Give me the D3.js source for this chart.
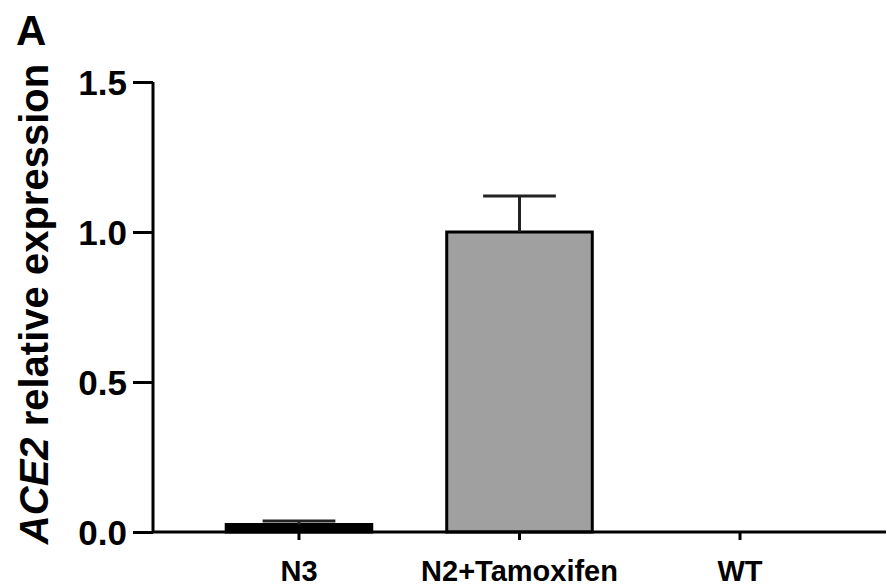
<!DOCTYPE html>
<html>
<head>
<meta charset="utf-8">
<script src="https://cdn.jsdelivr.net/npm/d3@7"></script>
<style>
  body { margin: 0; background: #fff; }
  text { font-family: "Liberation Sans", Arial, sans-serif; font-weight: bold; fill: #000; }
</style>
</head>
<body>
<svg id="chart" width="887" height="587"></svg>
<script>
// chart values
var groups = ["N3", "N2+Tamoxifen", "WT"];
var means = [0.025, 1.0, 0];
var errors = [0.012, 0.12, 0];
var yTicks = [0, 0.5, 1.0, 1.5];
var fills = ["#000000", "#a0a0a0", "#ffffff"];

(function () {
    var svg = d3.select("#chart");
    var plotLeft = 153, plotRight = 886, plotTop = 82, plotBottom = 532;

    var x = d3.scaleBand()
        .domain(groups)
        .range([plotLeft, plotRight])
        .paddingInner(0.34)
        .paddingOuter(0.332);

    var y = d3.scaleLinear()
        .domain([0, 1.5])
        .range([plotBottom, plotTop]);

    var color = d3.scaleOrdinal().domain(groups).range(fills);

    // bars
    svg.selectAll("rect.bar")
        .data(groups)
        .enter()
        .append("rect")
        .attr("class", "bar")
        .attr("x", (d) => x(d))
        .attr("width", x.bandwidth())
        .attr("y", (d, i) => y(means[i]))
        .attr("height", (d, i) => y(0) - y(means[i]))
        .attr("fill", (d) => color(d))
        .attr("stroke", "#000")
        .attr("stroke-width", 3)
        .style("display", (d, i) => means[i] > 0 ? null : "none");

    // error bars (upper only)
    var errTop = (d) => y(means[groups.indexOf(d)] + errors[groups.indexOf(d)]);
    var eb = svg.selectAll("g.err")
        .data(groups.filter((d, i) => errors[i] > 0))
        .enter()
        .append("g")
        .attr("class", "err");

    eb.append("line")
        .attr("x1", (d) => x(d) + x.bandwidth() / 2)
        .attr("x2", (d) => x(d) + x.bandwidth() / 2)
        .attr("y1", (d) => y(means[groups.indexOf(d)]))
        .attr("y2", errTop)
        .attr("stroke", "#222")
        .attr("stroke-width", 3);

    eb.append("line")
        .attr("x1", (d) => x(d) + x.bandwidth() * 0.25)
        .attr("x2", (d) => x(d) + x.bandwidth() * 0.75)
        .attr("y1", errTop)
        .attr("y2", errTop)
        .attr("stroke", "#222")
        .attr("stroke-width", 3);

    // y axis
    var yAxis = svg.append("g")
        .attr("transform", "translate(" + plotLeft + ",0)")
        .call(d3.axisLeft(y).tickValues(yTicks).tickFormat(d3.format(".1f")).tickSize(20).tickPadding(6));
    yAxis.select(".domain").attr("stroke-width", 3).attr("d", "M0," + plotTop + "V" + plotBottom);
    yAxis.selectAll(".tick line").attr("stroke-width", 3);
    yAxis.selectAll(".tick text").style("font-size", "35px").attr("dy", "0.36em");

    // x axis
    var xAxis = svg.append("g")
        .attr("transform", "translate(0," + plotBottom + ")")
        .call(d3.axisBottom(x).tickSize(8).tickPadding(20));
    xAxis.select(".domain").attr("stroke-width", 3).attr("d", "M" + plotLeft + ",0H" + plotRight);
    xAxis.selectAll(".tick line").attr("stroke-width", 3);
    xAxis.selectAll(".tick text").style("font-size", "29px").attr("dy", "0.71em");

    // y label
    var yl = svg.append("text")
        .attr("transform", "translate(48,304) rotate(-90)")
        .attr("text-anchor", "middle")
        .style("font-size", "40px");
    yl.append("tspan").style("font-style", "italic").text("ACE2");
    yl.append("tspan").text(" relative expression");

    // panel letter
    svg.append("text")
        .attr("x", 16)
        .attr("y", 45)
        .style("font-size", "42px")
        .text("A");
})();
</script>
</body>
</html>
